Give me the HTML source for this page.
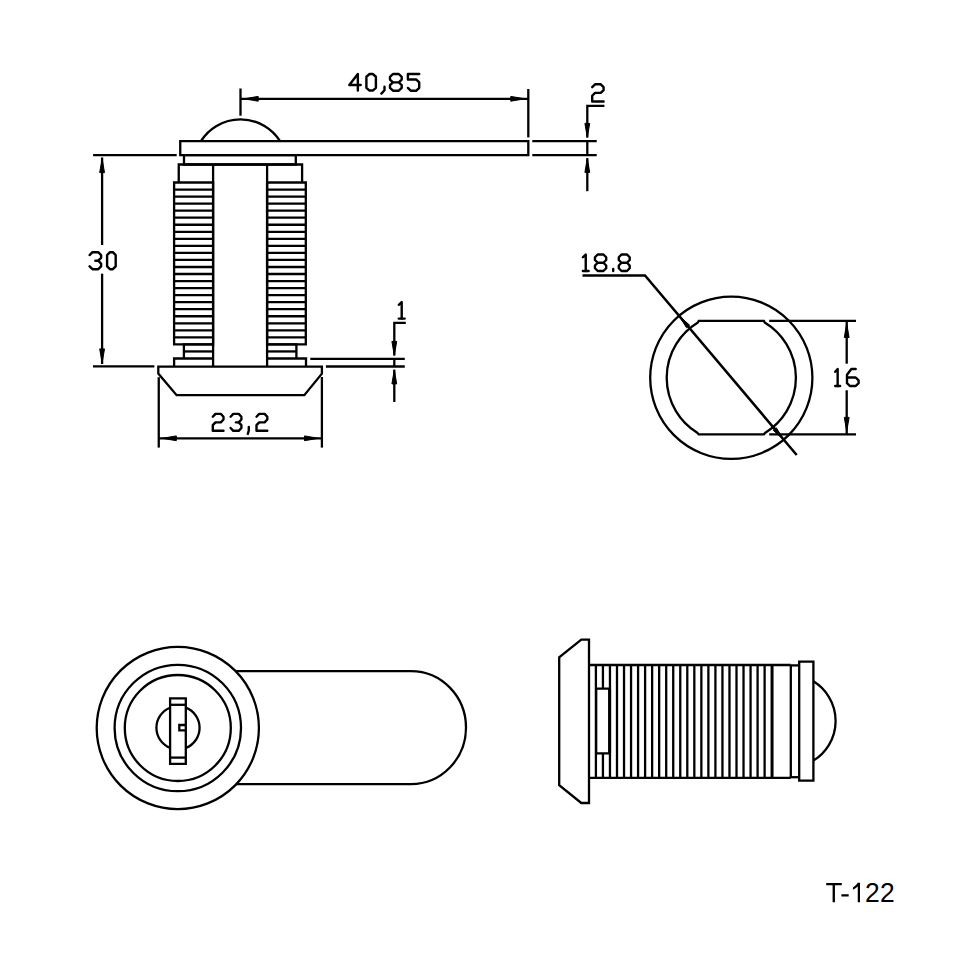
<!DOCTYPE html>
<html><head><meta charset="utf-8"><style>
html,body{margin:0;padding:0;background:#fff;width:960px;height:960px;overflow:hidden}
svg{display:block}
</style></head><body>
<svg width="960" height="960" viewBox="0 0 960 960">
<rect x="0" y="0" width="960" height="960" fill="#fff"/>
<g fill="none" stroke="#000" stroke-width="2.3" stroke-linecap="butt" stroke-linejoin="miter">
<path d="M200.9,141.1 A46.9,46.9 0 0,1 280.1,141.1"/>
<path d="M180.25,141.10 L528.30,141.10 L528.30,155.20 L180.25,155.20Z"/>
<path d="M184.00,155.20 L295.80,155.20 L295.80,164.50 L184.00,164.50Z"/>
<path d="M178.75,182.50 L178.75,164.50 L302.10,164.50 L302.10,182.50"/>
<line x1="213.10" y1="164.50" x2="213.10" y2="366.30"/>
<line x1="267.10" y1="164.50" x2="267.10" y2="366.30"/>
<path d="M174.10,182.50 L213.10,182.50 L213.10,344.40 L174.10,344.40Z"/>
<path d="M267.10,182.50 L305.80,182.50 L305.80,344.40 L267.10,344.40Z"/>
<line x1="174.10" y1="189.54" x2="213.10" y2="189.54"/>
<line x1="267.10" y1="189.54" x2="305.80" y2="189.54"/>
<line x1="174.10" y1="196.58" x2="213.10" y2="196.58"/>
<line x1="267.10" y1="196.58" x2="305.80" y2="196.58"/>
<line x1="174.10" y1="203.62" x2="213.10" y2="203.62"/>
<line x1="267.10" y1="203.62" x2="305.80" y2="203.62"/>
<line x1="174.10" y1="210.66" x2="213.10" y2="210.66"/>
<line x1="267.10" y1="210.66" x2="305.80" y2="210.66"/>
<line x1="174.10" y1="217.70" x2="213.10" y2="217.70"/>
<line x1="267.10" y1="217.70" x2="305.80" y2="217.70"/>
<line x1="174.10" y1="224.74" x2="213.10" y2="224.74"/>
<line x1="267.10" y1="224.74" x2="305.80" y2="224.74"/>
<line x1="174.10" y1="231.78" x2="213.10" y2="231.78"/>
<line x1="267.10" y1="231.78" x2="305.80" y2="231.78"/>
<line x1="174.10" y1="238.82" x2="213.10" y2="238.82"/>
<line x1="267.10" y1="238.82" x2="305.80" y2="238.82"/>
<line x1="174.10" y1="245.86" x2="213.10" y2="245.86"/>
<line x1="267.10" y1="245.86" x2="305.80" y2="245.86"/>
<line x1="174.10" y1="252.90" x2="213.10" y2="252.90"/>
<line x1="267.10" y1="252.90" x2="305.80" y2="252.90"/>
<line x1="174.10" y1="259.94" x2="213.10" y2="259.94"/>
<line x1="267.10" y1="259.94" x2="305.80" y2="259.94"/>
<line x1="174.10" y1="266.98" x2="213.10" y2="266.98"/>
<line x1="267.10" y1="266.98" x2="305.80" y2="266.98"/>
<line x1="174.10" y1="274.02" x2="213.10" y2="274.02"/>
<line x1="267.10" y1="274.02" x2="305.80" y2="274.02"/>
<line x1="174.10" y1="281.06" x2="213.10" y2="281.06"/>
<line x1="267.10" y1="281.06" x2="305.80" y2="281.06"/>
<line x1="174.10" y1="288.10" x2="213.10" y2="288.10"/>
<line x1="267.10" y1="288.10" x2="305.80" y2="288.10"/>
<line x1="174.10" y1="295.14" x2="213.10" y2="295.14"/>
<line x1="267.10" y1="295.14" x2="305.80" y2="295.14"/>
<line x1="174.10" y1="302.18" x2="213.10" y2="302.18"/>
<line x1="267.10" y1="302.18" x2="305.80" y2="302.18"/>
<line x1="174.10" y1="309.22" x2="213.10" y2="309.22"/>
<line x1="267.10" y1="309.22" x2="305.80" y2="309.22"/>
<line x1="174.10" y1="316.26" x2="213.10" y2="316.26"/>
<line x1="267.10" y1="316.26" x2="305.80" y2="316.26"/>
<line x1="174.10" y1="323.30" x2="213.10" y2="323.30"/>
<line x1="267.10" y1="323.30" x2="305.80" y2="323.30"/>
<line x1="174.10" y1="330.34" x2="213.10" y2="330.34"/>
<line x1="267.10" y1="330.34" x2="305.80" y2="330.34"/>
<line x1="174.10" y1="337.38" x2="213.10" y2="337.38"/>
<line x1="267.10" y1="337.38" x2="305.80" y2="337.38"/>
<path d="M213.10,344.40 L183.90,344.40 L183.90,358.50"/>
<path d="M267.10,344.40 L296.40,344.40 L296.40,358.50"/>
<line x1="183.90" y1="351.44" x2="213.10" y2="351.44"/>
<line x1="267.10" y1="351.44" x2="296.40" y2="351.44"/>
<path d="M174.10,366.30 L174.10,358.50 L213.10,358.50"/>
<path d="M267.10,358.50 L306.00,358.50 L306.00,366.30"/>
<path d="M158.30,366.60 L321.90,366.60 L321.90,373.70 L304.30,395.20 L176.60,395.20 L158.30,373.50Z"/>
<line x1="240.50" y1="88.50" x2="240.50" y2="115.70"/>
<line x1="528.30" y1="89.00" x2="528.30" y2="137.40"/>
<line x1="240.50" y1="98.80" x2="528.30" y2="98.80"/>
<path d="M244.20,98.80 L258.20,96.40 L258.20,101.20Z" fill="#000" stroke-width="1"/>
<path d="M524.80,98.80 L510.80,101.20 L510.80,96.40Z" fill="#000" stroke-width="1"/>
<path d="M357.85,90.55 L357.85,74.00 L349.30,85.03 L360.70,85.03" stroke-width="2.4" stroke-linecap="round" stroke-linejoin="round"/>
<path d="M369.57,74.00 L372.73,74.00 L375.90,76.76 L375.90,87.79 L372.73,90.55 L369.57,90.55 L366.40,87.79 L366.40,76.76 L369.57,74.00" stroke-width="2.4" stroke-linecap="round" stroke-linejoin="round"/>
<path d="M384.50,86.69 L384.50,90.27 L381.40,93.58" stroke-width="2.4" stroke-linecap="round" stroke-linejoin="round"/>
<path d="M392.93,82.35 L390.00,79.57 L390.00,76.78 L392.93,74.00 L398.77,74.00 L401.70,76.78 L401.70,79.57 L398.77,82.35 L392.93,82.35 L390.00,85.13 L390.00,87.92 L392.93,90.70 L398.77,90.70 L401.70,87.92 L401.70,85.13 L398.77,82.35" stroke-width="2.4" stroke-linecap="round" stroke-linejoin="round"/>
<path d="M419.20,74.00 L407.90,74.00 L407.90,79.57 L416.38,79.57 L419.20,82.35 L419.20,87.92 L416.38,90.70 L410.72,90.70 L407.90,87.92" stroke-width="2.4" stroke-linecap="round" stroke-linejoin="round"/>
<line x1="532.30" y1="141.10" x2="596.70" y2="141.10"/>
<line x1="532.30" y1="155.20" x2="596.70" y2="155.20"/>
<path d="M604.40,105.80 L587.30,105.80 L587.30,137.60"/>
<line x1="587.30" y1="158.20" x2="587.30" y2="191.20"/>
<path d="M587.30,137.40 L584.90,123.40 L589.70,123.40Z" fill="#000" stroke-width="1"/>
<path d="M587.30,158.40 L589.70,172.40 L584.90,172.40Z" fill="#000" stroke-width="1"/>
<line x1="587.30" y1="141.10" x2="587.30" y2="155.20"/>
<path d="M592.20,87.17 L595.05,84.30 L600.75,84.30 L603.60,87.17 L603.60,90.03 L600.75,92.90 L595.05,92.90 L592.20,95.77 L592.20,101.50 L603.60,101.50" stroke-width="2.4" stroke-linecap="round" stroke-linejoin="round"/>
<line x1="93.10" y1="155.20" x2="176.70" y2="155.20"/>
<line x1="93.00" y1="366.40" x2="154.40" y2="366.40"/>
<line x1="102.10" y1="157.50" x2="102.10" y2="245.00"/>
<line x1="102.10" y1="273.70" x2="102.10" y2="364.00"/>
<path d="M102.10,158.60 L104.50,172.60 L99.70,172.60Z" fill="#000" stroke-width="1"/>
<path d="M102.10,362.90 L99.70,348.90 L104.50,348.90Z" fill="#000" stroke-width="1"/>
<path d="M89.60,255.03 L92.48,252.20 L98.22,252.20 L101.10,255.03 L101.10,257.87 L98.22,260.70 L101.10,263.53 L101.10,266.37 L98.22,269.20 L92.48,269.20 L89.60,266.37" stroke-width="2.4" stroke-linecap="round" stroke-linejoin="round"/>
<path d="M95.35,260.70 L98.22,260.70" stroke-width="2.4" stroke-linecap="round" stroke-linejoin="round"/>
<path d="M109.97,252.20 L112.83,252.20 L115.70,255.03 L115.70,266.37 L112.83,269.20 L109.97,269.20 L107.10,266.37 L107.10,255.03 L109.97,252.20" stroke-width="2.4" stroke-linecap="round" stroke-linejoin="round"/>
<line x1="158.75" y1="377.20" x2="158.75" y2="447.60"/>
<line x1="321.90" y1="377.00" x2="321.90" y2="447.60"/>
<line x1="158.75" y1="438.30" x2="322.00" y2="438.30"/>
<path d="M162.30,438.30 L176.30,435.90 L176.30,440.70Z" fill="#000" stroke-width="1"/>
<path d="M318.50,438.30 L304.50,440.70 L304.50,435.90Z" fill="#000" stroke-width="1"/>
<path d="M212.80,416.72 L215.47,413.90 L220.82,413.90 L223.50,416.72 L223.50,419.53 L220.82,422.35 L215.47,422.35 L212.80,425.17 L212.80,430.80 L223.50,430.80" stroke-width="2.4" stroke-linecap="round" stroke-linejoin="round"/>
<path d="M230.60,416.72 L233.30,413.90 L238.70,413.90 L241.40,416.72 L241.40,419.53 L238.70,422.35 L241.40,425.17 L241.40,427.98 L238.70,430.80 L233.30,430.80 L230.60,427.98" stroke-width="2.4" stroke-linecap="round" stroke-linejoin="round"/>
<path d="M236.00,422.35 L238.70,422.35" stroke-width="2.4" stroke-linecap="round" stroke-linejoin="round"/>
<path d="M248.80,426.86 L248.80,430.52 L247.80,433.90" stroke-width="2.4" stroke-linecap="round" stroke-linejoin="round"/>
<path d="M256.50,416.72 L259.20,413.90 L264.60,413.90 L267.30,416.72 L267.30,419.53 L264.60,422.35 L259.20,422.35 L256.50,425.17 L256.50,430.80 L267.30,430.80" stroke-width="2.4" stroke-linecap="round" stroke-linejoin="round"/>
<line x1="310.30" y1="358.80" x2="404.80" y2="358.80"/>
<line x1="325.90" y1="366.50" x2="404.80" y2="366.50"/>
<path d="M405.80,322.80 L394.30,322.80 L394.30,355.60"/>
<line x1="394.30" y1="369.70" x2="394.30" y2="402.00"/>
<path d="M394.30,355.40 L391.90,341.40 L396.70,341.40Z" fill="#000" stroke-width="1"/>
<path d="M394.30,369.90 L396.70,383.90 L391.90,383.90Z" fill="#000" stroke-width="1"/>
<line x1="394.30" y1="358.80" x2="394.30" y2="366.50"/>
<path d="M398.80,304.77 L401.70,302.00 L401.70,318.60" stroke-width="2.4" stroke-linecap="round" stroke-linejoin="round"/>
<path d="M398.80,318.60 L404.60,318.60" stroke-width="2.4" stroke-linecap="round" stroke-linejoin="round"/>
<circle cx="731.30" cy="377.80" r="81.10"/>
<path d="M698.70,320.9 L763.90,320.9 L764.69,322.50 A64.6,64.6 0 0,1 765.35,432.70 L763.90,434.3 L698.70,434.3 L697.25,432.70 A64.6,64.6 0 0,1 697.91,322.50Z"/>
<line x1="769.20" y1="320.90" x2="856.00" y2="320.90"/>
<line x1="769.20" y1="434.30" x2="856.00" y2="434.30"/>
<line x1="846.70" y1="320.90" x2="846.70" y2="363.70"/>
<line x1="846.70" y1="390.30" x2="846.70" y2="434.30"/>
<path d="M846.70,323.50 L849.10,337.50 L844.30,337.50Z" fill="#000" stroke-width="1"/>
<path d="M846.70,431.40 L844.30,417.40 L849.10,417.40Z" fill="#000" stroke-width="1"/>
<path d="M835.20,371.83 L837.65,369.00 L837.65,386.00" stroke-width="2.4" stroke-linecap="round" stroke-linejoin="round"/>
<path d="M835.20,386.00 L840.10,386.00" stroke-width="2.4" stroke-linecap="round" stroke-linejoin="round"/>
<path d="M855.70,369.00 L851.35,369.00 L847.00,374.67 L847.00,383.17 L849.90,386.00 L855.70,386.00 L858.60,383.17 L858.60,380.33 L855.70,377.50 L847.00,377.50" stroke-width="2.4" stroke-linecap="round" stroke-linejoin="round"/>
<path d="M582.5,275.5 L645,275.5 L796.7,455" stroke-width="2.5"/>
<path d="M679.04,315.78 L689.61,325.18 L686.55,327.76Z" fill="#000" stroke-width="1"/>
<path d="M783.74,439.66 L773.18,430.26 L776.23,427.68Z" fill="#000" stroke-width="1"/>
<path d="M582.90,257.25 L585.75,254.50 L585.75,271.00" stroke-width="2.4" stroke-linecap="round" stroke-linejoin="round"/>
<path d="M582.90,271.00 L588.60,271.00" stroke-width="2.4" stroke-linecap="round" stroke-linejoin="round"/>
<path d="M597.76,262.75 L594.95,260.00 L594.95,257.25 L597.76,254.50 L603.39,254.50 L606.20,257.25 L606.20,260.00 L603.39,262.75 L597.76,262.75 L594.95,265.50 L594.95,268.25 L597.76,271.00 L603.39,271.00 L606.20,268.25 L606.20,265.50 L603.39,262.75" stroke-width="2.4" stroke-linecap="round" stroke-linejoin="round"/>
<path d="M613.20,269.07 L613.20,271.00" stroke-width="2.4" stroke-linecap="round" stroke-linejoin="round"/>
<path d="M621.53,262.75 L618.80,260.00 L618.80,257.25 L621.53,254.50 L626.97,254.50 L629.70,257.25 L629.70,260.00 L626.97,262.75 L621.53,262.75 L618.80,265.50 L618.80,268.25 L621.53,271.00 L626.97,271.00 L629.70,268.25 L629.70,265.50 L626.97,262.75" stroke-width="2.4" stroke-linecap="round" stroke-linejoin="round"/>
<circle cx="177.80" cy="728.00" r="81.10"/>
<circle cx="177.80" cy="728.00" r="63.20"/>
<circle cx="177.80" cy="728.00" r="53.00"/>
<path d="M235.59,671.1 L411.0,671.1 A55,56.5 0 0,1 411.0,784.1 L236.37,784.1"/>
<path d="M170.1,707.70 A21.6,21.6 0 0,0 170.1,747.90"/>
<path d="M185.8,707.66 A21.6,21.6 0 0,1 185.8,747.94"/>
<path d="M170.10,698.30 L185.80,698.30 L185.80,763.80 L170.10,763.80Z"/>
<line x1="170.10" y1="704.80" x2="185.80" y2="704.80"/>
<line x1="170.10" y1="757.60" x2="185.80" y2="757.60"/>
<path d="M185.80,725.00 L179.30,725.00 L179.30,730.40 L185.80,730.40"/>
<path d="M589.00,639.60 L581.30,639.60 L559.20,657.30 L559.20,785.10 L581.30,803.00 L589.00,803.00Z"/>
<line x1="589.00" y1="665.00" x2="790.80" y2="665.00"/>
<line x1="589.00" y1="777.90" x2="790.80" y2="777.90"/>
<line x1="595.90" y1="665.00" x2="595.90" y2="777.90"/>
<line x1="602.93" y1="665.00" x2="602.93" y2="777.90"/>
<line x1="609.96" y1="665.00" x2="609.96" y2="777.90"/>
<line x1="616.99" y1="665.00" x2="616.99" y2="777.90"/>
<line x1="624.02" y1="665.00" x2="624.02" y2="777.90"/>
<line x1="631.05" y1="665.00" x2="631.05" y2="777.90"/>
<line x1="638.08" y1="665.00" x2="638.08" y2="777.90"/>
<line x1="645.11" y1="665.00" x2="645.11" y2="777.90"/>
<line x1="652.14" y1="665.00" x2="652.14" y2="777.90"/>
<line x1="659.17" y1="665.00" x2="659.17" y2="777.90"/>
<line x1="666.20" y1="665.00" x2="666.20" y2="777.90"/>
<line x1="673.23" y1="665.00" x2="673.23" y2="777.90"/>
<line x1="680.26" y1="665.00" x2="680.26" y2="777.90"/>
<line x1="687.29" y1="665.00" x2="687.29" y2="777.90"/>
<line x1="694.32" y1="665.00" x2="694.32" y2="777.90"/>
<line x1="701.35" y1="665.00" x2="701.35" y2="777.90"/>
<line x1="708.38" y1="665.00" x2="708.38" y2="777.90"/>
<line x1="715.41" y1="665.00" x2="715.41" y2="777.90"/>
<line x1="722.44" y1="665.00" x2="722.44" y2="777.90"/>
<line x1="729.47" y1="665.00" x2="729.47" y2="777.90"/>
<line x1="736.50" y1="665.00" x2="736.50" y2="777.90"/>
<line x1="743.53" y1="665.00" x2="743.53" y2="777.90"/>
<line x1="750.56" y1="665.00" x2="750.56" y2="777.90"/>
<line x1="757.59" y1="665.00" x2="757.59" y2="777.90"/>
<line x1="764.62" y1="665.00" x2="764.62" y2="777.90"/>
<line x1="772.05" y1="665.00" x2="772.05" y2="777.90" stroke-width="3.0"/>
<path d="M596.20,688.70 L609.60,688.70 L609.60,753.40 L596.20,753.40Z" fill="#fff"/>
<line x1="609.60" y1="688.70" x2="609.60" y2="753.40" stroke-width="3.0"/>
<line x1="790.80" y1="665.00" x2="790.80" y2="777.90"/>
<path d="M790.80,665.40 L799.20,665.40"/>
<path d="M790.80,777.20 L799.20,777.20"/>
<path d="M799.20,661.60 L813.40,661.60 L813.40,780.60 L799.20,780.60Z"/>
<path d="M813.4,681.3 A46.5,46.5 0 0,1 813.4,760.6"/>
<path d="M826.2,883.0 H841.8 V885.2 H834.95 V902.3 H832.6 V885.2 H826.2Z M841.4,894.25 H848.7 V896.45 H841.4Z M857.75,882.7 H860.0 V902.3 H857.75 V886.6 Q855.8,888.6 852.9,889.7 V887.4 Q856.2,885.6 857.75,882.7Z" fill="#000" stroke="none"/>
<text x="0" y="0" transform="translate(865.1,902.3) scale(0.935,1)" font-family="Liberation Sans, sans-serif" font-size="28.3" fill="#000" stroke="none">2</text>
<text x="0" y="0" transform="translate(880.1,902.3) scale(0.935,1)" font-family="Liberation Sans, sans-serif" font-size="28.3" fill="#000" stroke="none">2</text>
</g>
</svg>
</body></html>
